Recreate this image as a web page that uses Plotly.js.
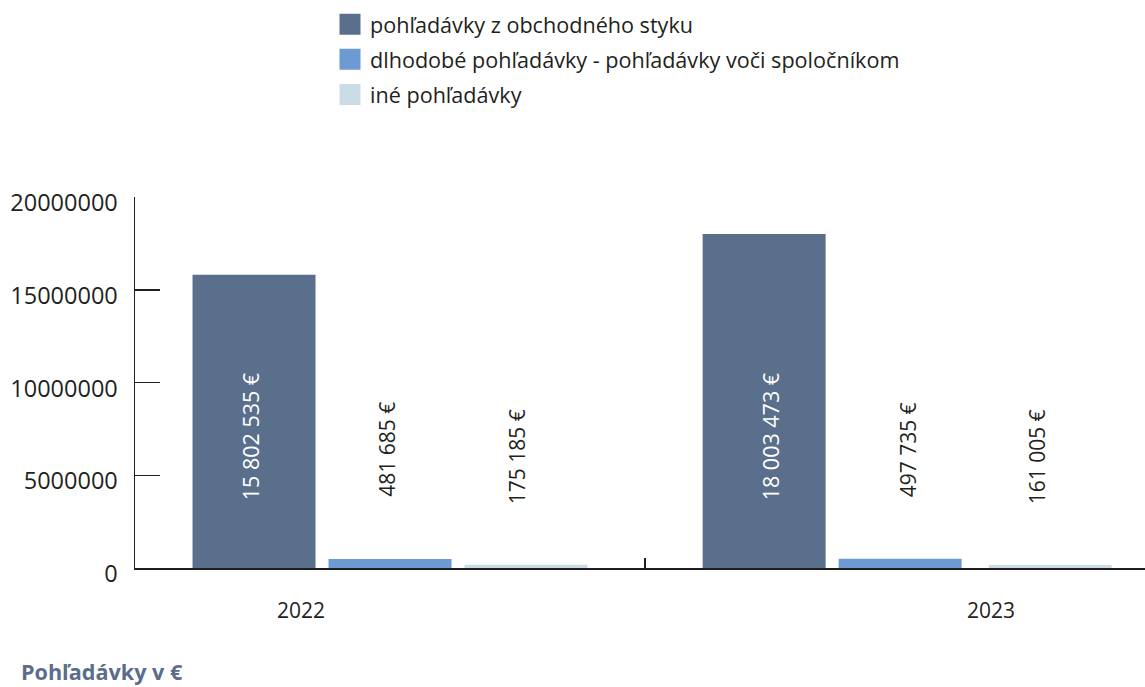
<!DOCTYPE html>
<html>
<head>
<meta charset="utf-8">
<script src="https://cdn.plot.ly/plotly-3.0.1.min.js"></script>
<style>
  html, body { margin: 0; padding: 0; background: #ffffff; }
  #chart { width: 1145px; height: 687px; }
</style>
</head>
<body>
<div id="chart"></div>
<script>
// ---- data ----
const years = ["2022", "2023"];
const seriesNames = [
  "pohľadávky z obchodného styku",
  "dlhodobé pohľadávky - pohľadávky voči spoločníkom",
  "iné pohľadávky"
];
const obchodnyStyk = [15802535, 18003473];
const spolocnici = [481685, 497735];
const ine = [175185, 161005];
const valueLabels = [
  ["15 802 535 €", "18 003 473 €"],
  ["481 685 €", "497 735 €"],
  ["175 185 €", "161 005 €"]
];
const yTicks = [0, 5000000, 10000000, 15000000, 20000000];
const chartTitle = "Pohľadávky v €";

// ---- styles / layout config ----
const FONT = "'Open Sans', 'Noto Sans', sans-serif";
const INK = "#231f20";
const colors = ["#5a6f8b", "#6b9bd2", "#c9dbe4"];
const barWidth = 0.2411;
const offsets = [
  [-0.3872, -0.3872],
  [-0.1206, -0.1206],
  [0.146, 0.1735]
];
const labelColors = ["#ffffff", INK, INK];
const labelSizes = [21.5, 21, 21];
const labelYPaper = [(568.3 - 437) / 371, (568.3 - 450) / 371, (568.3 - 457) / 371];
const labelXShift = [[-3.5, 6.5], [-3, 7.5], [-9.5, -13.5]];
const yearShift = [-89.5, 91];

const values = [obchodnyStyk, spolocnici, ine];

const traces = values.map((v, s) => ({
  type: "bar",
  name: seriesNames[s],
  x: years,
  y: v,
  width: [barWidth, barWidth],
  offset: offsets[s],
  marker: { color: colors[s], line: { width: 0 } },
  legendgroup: "g" + s,
  hoverinfo: "x+y+name"
}));

const annotations = [];
values.forEach((v, s) => {
  years.forEach((yr, i) => {
    annotations.push({
      x: i + offsets[s][i] + barWidth / 2,
      xref: "x",
      y: labelYPaper[s],
      yref: "paper",
      text: valueLabels[s][i],
      textangle: -90,
      showarrow: false,
      xanchor: "center",
      yanchor: "middle",
      xshift: labelXShift[s][i],
      font: { family: FONT, size: labelSizes[s], color: labelColors[s] }
    });
  });
});
years.forEach((yr, i) => {
  annotations.push({
    x: i,
    xref: "x",
    y: (568.3 - 610) / 371,
    yref: "paper",
    text: yr,
    showarrow: false,
    xanchor: "center",
    yanchor: "middle",
    xshift: yearShift[i],
    font: { family: FONT, size: 21, color: INK }
  });
});

const layout = {
  width: 1145,
  height: 687,
  margin: { l: 135, r: 0, t: 197, b: 119, pad: 0 },
  paper_bgcolor: "#ffffff",
  plot_bgcolor: "#ffffff",
  barmode: "overlay",
  font: { family: FONT, color: INK },
  title: {
    text: "<b>" + chartTitle + "</b>",
    xref: "container",
    yref: "container",
    x: 21 / 1145,
    xanchor: "left",
    y: 1 - 672 / 687,
    yanchor: "middle",
    font: { family: FONT, size: 21.6, color: "#5a6e8c" }
  },
  xaxis: {
    type: "category",
    range: [-0.5, 1.48],
    showgrid: false,
    zeroline: false,
    showline: true,
    linecolor: INK,
    linewidth: 1.5,
    ticks: "inside",
    tickson: "boundaries",
    ticklen: 10,
    tickwidth: 1.5,
    tickcolor: INK,
    showticklabels: false,
    fixedrange: true
  },
  yaxis: {
    range: [0, 20000000],
    tickvals: yTicks,
    ticktext: yTicks.map(String),
    showgrid: false,
    zeroline: false,
    showline: true,
    linecolor: INK,
    linewidth: 1.5,
    ticks: "inside",
    ticklen: 25,
    tickwidth: 1.5,
    tickcolor: INK,
    ticklabelstandoff: 11,
    ticklabelshift: 6,
    tickfont: { family: FONT, size: 23.5, color: INK },
    fixedrange: true
  },
  showlegend: true,
  legend: {
    x: (330 - 135) / 1010,
    xanchor: "left",
    y: 1 + (197.3 - 4) / 371,
    yanchor: "top",
    orientation: "v",
    traceorder: "grouped",
    tracegroupgap: 4,
    bgcolor: "rgba(0,0,0,0)",
    borderwidth: 0,
    font: { family: FONT, size: 21.6, color: INK }
  },
  annotations: annotations
};

Plotly.newPlot("chart", traces, layout, { displayModeBar: false, staticPlot: true }).then(gd => {
  gd.querySelectorAll(".legend .legendpoints path").forEach(p => {
    p.setAttribute("d", "M10.5,10.5H-10.5V-10.5H10.5Z");
  });
});
</script>
</body>
</html>
